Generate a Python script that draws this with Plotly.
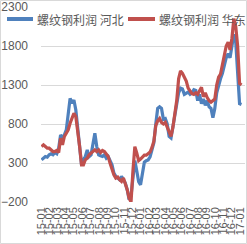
import pandas as pd
import plotly.graph_objects as go

# weekly observation dates
dates = pd.date_range("2015-01-02", periods=106, freq="7D").strftime("%Y-%m-%d").tolist()

hebei = [341, 362, 383, 375, 405, 418, 405, 435, 418, 490,
         660, 618, 660, 724, 895, 1129, 1065, 1108, 980, 724,
         511, 277, 341, 383, 469, 383, 405, 554, 682, 511,
         405, 392, 383, 405, 362, 383, 320, 277, 170, 128,
         107, 85, 128, 85, 43, -43, -170, -120, 100, 330,
         200, 60, 20, 150, 310, 330, 340, 380, 470, 560,
         800, 1000, 1020, 1000, 860, 870, 800, 640, 620, 760,
         900, 1060, 1200, 1260, 1250, 1180, 1200, 1210, 1180, 1200,
         1240, 1230, 1100, 1180, 1060, 1120, 1040, 1100, 1020, 1000,
         880, 1000, 1200, 1300, 1380, 1450, 1550, 1650, 1700, 1650,
         1800, 1950, 1850, 1500, 1060, 1050]

huadong = [511, 532, 511, 490, 490, 469, 447, 447, 460, 435,
           618, 532, 640, 682, 724, 810, 874, 938, 895, 724,
           511, 277, 277, 341, 362, 405, 426, 447, 469, 447,
           469, 435, 460, 447, 405, 383, 298, 213, 149, 107,
           120, 85, 64, 107, 43, -43, -150, -200, 200, 510,
           430, 330, 350, 380, 400, 400, 420, 440, 500, 580,
           780, 840, 870, 820, 800, 820, 760, 700, 640, 760,
           920, 1100, 1380, 1480, 1450, 1400, 1350, 1260, 1220, 1190,
           1180, 1200, 1180, 1230, 1270, 1150, 1200, 1140, 1100, 1080,
           1100, 1120, 1300, 1400, 1440, 1550, 1650, 1800, 1850, 1750,
           1900, 2150, 2050, 1800, 1320, 1300]

series_names = ["螺纹钢利润 河北", "螺纹钢利润 华东"]
series_colors = ["#4F81BD", "#C0504D"]
y_ticks = [-200, 300, 800, 1300, 1800, 2300]
x_range = ["2014-12-31", "2017-01-19"]

W, H = 247, 244
ML, MR, MT, MB = 41, 2, 7, 42
pw = W - ML - MR
ph = H - MT - MB


def px_x(p):
    return (p - ML) / pw


def px_y(p):
    return 1 - (p - MT) / ph


fig = go.Figure()
for name, vals, col in zip(series_names, [hebei, huadong], series_colors):
    fig.add_trace(go.Scatter(x=dates, y=vals, mode="lines", name=name,
                             line=dict(color=col, width=3.2)))

font_num = "Liberation Sans, Arial, sans-serif"

# legend drawn as line samples + text
legend_y = 19
legend_items = [(7, 33, 35), (128, 155, 157)]
shapes = [dict(type="rect", xref="paper", yref="paper",
               x0=px_x(0.5), x1=px_x(W - 0.5), y0=px_y(H - 0.5), y1=px_y(0.5),
               line=dict(color="#D9D9D9", width=1), layer="below")]
annotations = []
for (l0, l1, tx), name, col in zip(legend_items, series_names, series_colors):
    shapes.append(dict(type="line", xref="paper", yref="paper",
                       x0=px_x(l0), x1=px_x(l1), y0=px_y(legend_y), y1=px_y(legend_y),
                       line=dict(color=col, width=4)))
    annotations.append(dict(xref="paper", yref="paper", x=px_x(tx), y=px_y(legend_y),
                            xanchor="left", yanchor="middle", showarrow=False,
                            text=name, font=dict(family="Noto Sans CJK SC", size=12,
                                                 color="#595959")))

fig.update_layout(
    width=W, height=H,
    margin=dict(l=ML, r=MR, t=MT, b=MB, pad=0, autoexpand=False),
    paper_bgcolor="white", plot_bgcolor="white",
    showlegend=False,
    xaxis=dict(type="date", range=x_range, dtick="M1", tick0="2015-01-01",
               tickformat="%y-%m", tickangle=-90, showgrid=False,
               showline=False, ticks="", ticklabelstandoff=2,
               tickfont=dict(family=font_num, size=11, color="#595959")),
    xaxis2=dict(type="date", range=x_range, overlaying="x", anchor="free",
                position=200 / 2500, side="bottom", dtick="M1", tick0="2015-01-01",
                showline=True, linecolor="#D9D9D9", linewidth=1,
                ticks="outside", ticklen=4, tickcolor="#D9D9D9", tickwidth=1,
                showticklabels=False, showgrid=False, zeroline=False),
    yaxis=dict(range=[-200, 2300], tickvals=y_ticks, showgrid=True,
               gridcolor="#D9D9D9", gridwidth=1, zeroline=False,
               showline=False, ticks="", ticklabelstandoff=12,
               tickfont=dict(family=font_num, size=12, color="#595959")),
    shapes=shapes,
    annotations=annotations,
)

fig.write_html("out.html")
